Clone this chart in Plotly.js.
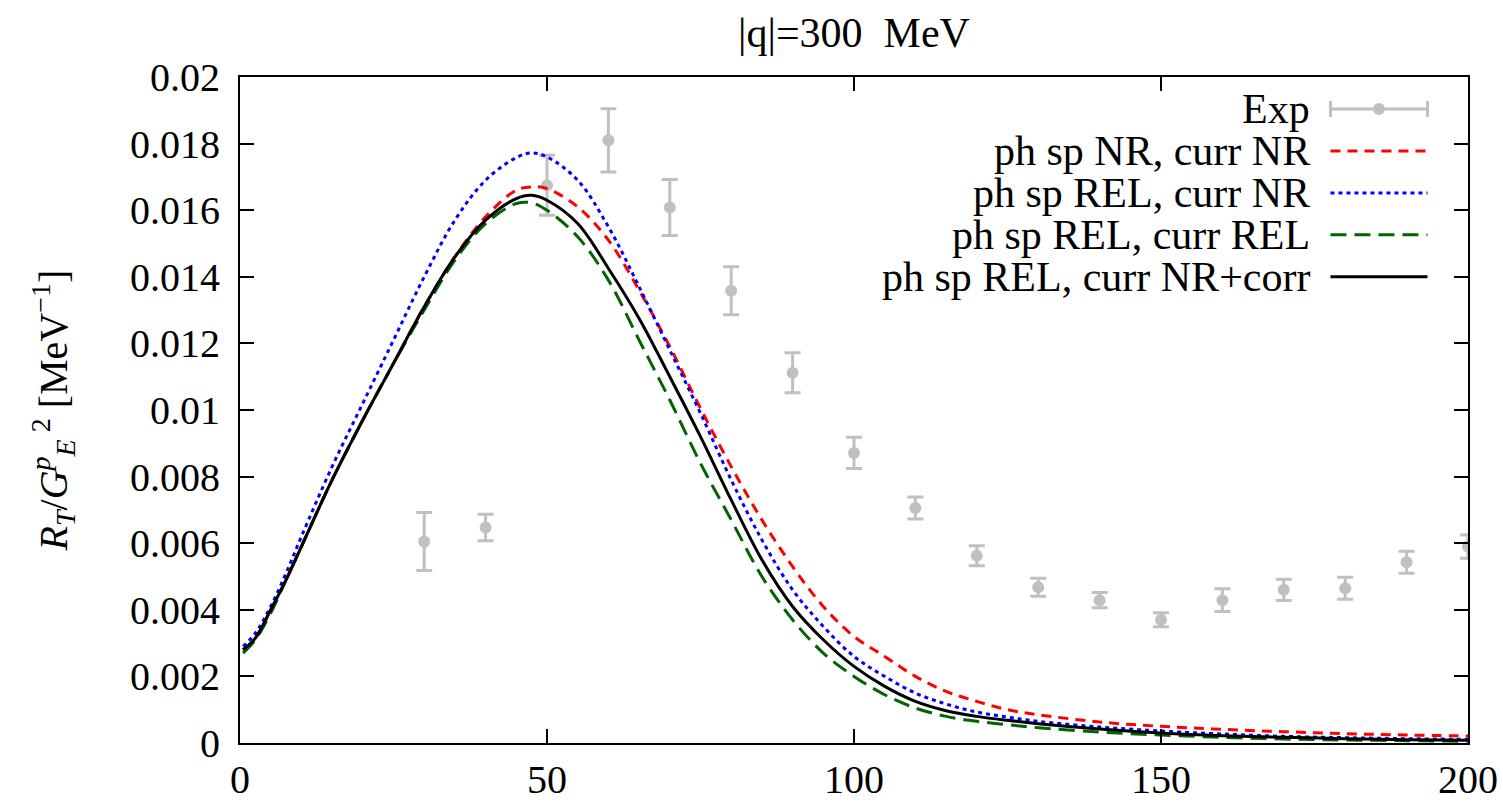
<!DOCTYPE html>
<html>
<head>
<meta charset="utf-8">
<script src="https://cdn.plot.ly/plotly-3.0.1.min.js"></script>
<style>html,body{margin:0;padding:0;background:#fff;}#chart{width:1503px;height:806px;}</style>
</head>
<body>
<div id="chart"></div>
<script>
// ---- data ----
const expX = [30,40,50,60,70,80,90,100,110,120,130,140,150,160,170,180,190,200];
const expY = [0.00605,0.00647,0.01675,0.0181,0.01608,0.01358,0.01112,0.00871,0.00706,0.00562,0.00468,0.00429,0.00370,0.00429,0.00460,0.00465,0.00543,0.0059];
const expErr = [0.00087,0.00040,0.0009,0.00095,0.00084,0.00072,0.0006,0.00047,0.00033,0.0003,0.00027,0.00023,0.00021,0.00034,0.00032,0.00033,0.00033,0.00035];

const curveX = [0.5,2.5,5,7.5,10,15,20,25,30,35,40,45,47.5,50,55,60,65,70,75,80,85,90,95,100,105,110,115,120,125,130,140,150,160,170,180,190,200];
const nrNR      = [0.0028,0.00315,0.0040,0.0049,0.0059,0.0079,0.0097,0.0114,0.0131,0.0146,0.0158,0.0166,0.0167,0.01665,0.0161,0.0151,0.0136,0.0119,0.01005,0.0083,0.0067,0.0053,0.0041,0.0032,0.0026,0.0020,0.00155,0.00125,0.0010,0.00085,0.00063,0.0005,0.00041,0.00034,0.00028,0.00024,0.00021];
const relNR     = [0.0029,0.0033,0.0041,0.0051,0.0062,0.0083,0.0102,0.0121,0.0140,0.0157,0.0169,0.01758,0.01772,0.0176,0.0169,0.0155,0.0137,0.0118,0.0099,0.0079,0.0061,0.0046,0.0035,0.0026,0.0020,0.0015,0.00117,0.00093,0.00078,0.00065,0.00048,0.00036,0.00027,0.0002,0.00016,0.00013,0.00011];
const relREL    = [0.0027,0.0031,0.0039,0.0049,0.0059,0.0079,0.0097,0.0114,0.0130,0.0145,0.0156,0.0162,0.01622,0.0160,0.0152,0.0139,0.0121,0.0103,0.0084,0.0067,0.0050,0.0037,0.0027,0.0020,0.00145,0.00105,0.0008,0.00065,0.00055,0.00046,0.00033,0.00024,0.00017,0.00012,0.00009,0.00007,0.00005];
const relNRcorr = [0.0028,0.00315,0.0040,0.0049,0.0059,0.0079,0.0097,0.0114,0.0131,0.0146,0.0157,0.01635,0.01645,0.0163,0.0156,0.01425,0.01275,0.0110,0.0092,0.0073,0.0055,0.0041,0.0031,0.0023,0.0017,0.00125,0.00097,0.0008,0.00068,0.00058,0.00042,0.0003,0.00022,0.00017,0.00013,0.0001,0.00008];

const seriesNames = ['Exp','ph sp NR, curr NR','ph sp REL, curr NR','ph sp REL, curr REL','ph sp REL, curr NR+corr'];
const xTickVals = [0,50,100,150,200];
const xTickText = ['0','50','100','150','200'];
const yTickVals = [0,0.002,0.004,0.006,0.008,0.01,0.012,0.014,0.016,0.018,0.02];
const yTickText = ['0','0.002','0.004','0.006','0.008','0.01','0.012','0.014','0.016','0.018','0.02'];

// ---- styles ----
const FONT = '"Liberation Serif", "Times New Roman", serif';
const GRAY = 'rgb(192,192,192)';
const styles = [
  null,
  {color:'#ff0000', dash:'10px,7px'},
  {color:'#0000ff', dash:'4px,4px'},
  {color:'#006400', dash:'16px,8px'},
  {color:'#000000', dash:'solid'}
];
const curves = [null, nrNR, relNR, relREL, relNRcorr];

const traces = [{
  x: expX, y: expY, type:'scatter', mode:'markers', name: seriesNames[0],
  marker:{color:GRAY, size:12},
  error_y:{type:'data', array: expErr, visible:true, color:GRAY, thickness:3, width:8},
  showlegend:false
}];
for (let i=1;i<5;i++){
  traces.push({x: curveX, y: curves[i], type:'scatter', mode:'lines', name: seriesNames[i],
    line:{color:styles[i].color, dash:styles[i].dash, width:3, shape:'spline', smoothing:1},
    showlegend:false});
}

// ---- custom legend (text left, key right) ----
const rowY = [0.952, 0.889, 0.826, 0.763, 0.700];
const textX = 0.873, keyX0 = 0.888, keyX1 = 0.967, keyMid = 0.9275;
const annotations = [];
const shapes = [];
for (let i=0;i<5;i++){
  annotations.push({xref:'paper', yref:'paper', x:textX, y:rowY[i], xanchor:'right', yanchor:'middle',
    text: seriesNames[i], showarrow:false, font:{family:FONT, size:42, color:'#000'}});
  if (i===0){
    shapes.push({type:'line', xref:'paper', yref:'paper', x0:keyX0, x1:keyX1, y0:rowY[0], y1:rowY[0], line:{color:GRAY, width:3}});
    [keyX0,keyX1].forEach(function(xx){
      shapes.push({type:'line', xref:'paper', yref:'paper', ysizemode:'pixel', yanchor:rowY[0], x0:xx, x1:xx, y0:-8, y1:8, line:{color:GRAY, width:3}});
    });
    shapes.push({type:'circle', xref:'paper', yref:'paper', xsizemode:'pixel', ysizemode:'pixel', xanchor:keyMid, yanchor:rowY[0],
      x0:-6, x1:6, y0:-6, y1:6, fillcolor:GRAY, line:{color:GRAY, width:0}});
  } else {
    shapes.push({type:'line', xref:'paper', yref:'paper', x0:keyX0, x1:keyX1, y0:rowY[i], y1:rowY[i],
      line:{color:styles[i].color, dash:styles[i].dash, width:3}});
  }
}

const layout = {
  width:1503, height:806,
  margin:{l:240, r:35, t:77, b:63},
  paper_bgcolor:'#fff', plot_bgcolor:'#fff',
  font:{family:FONT, size:40, color:'#000'},
  title:{text:'|q|=300  MeV', xref:'paper', x:0.5, xanchor:'center', y:0.96, yanchor:'middle', font:{family:FONT, size:42, color:'#000'}},
  xaxis:{range:[0,200], tickvals:xTickVals, ticktext:xTickText, ticks:'inside', ticklen:14, tickwidth:2, tickcolor:'#000',
    showline:true, linecolor:'#000', linewidth:2, mirror:'allticks', showgrid:false, zeroline:false,
    tickfont:{family:FONT, size:40}, ticklabelstandoff:0},
  yaxis:{range:[0,0.02], tickvals:yTickVals, ticktext:yTickText, ticks:'inside', ticklen:14, tickwidth:2, tickcolor:'#000',
    showline:true, linecolor:'#000', linewidth:2, mirror:'allticks', showgrid:false, zeroline:false,
    tickfont:{family:FONT, size:40}, ticklabelstandoff:10,
    title:{text:'<i>R</i><sub><i>T</i></sub>/<i>G</i><sup><i>p</i></sup><sub><i>E</i></sub><sup> 2</sup> [MeV<sup>−1</sup>]', font:{family:FONT, size:40}, standoff:50}},
  annotations: annotations,
  shapes: shapes,
  showlegend:false
};

Plotly.newPlot('chart', traces, layout, {displayModeBar:false, staticPlot:true});
</script>
</body>
</html>
